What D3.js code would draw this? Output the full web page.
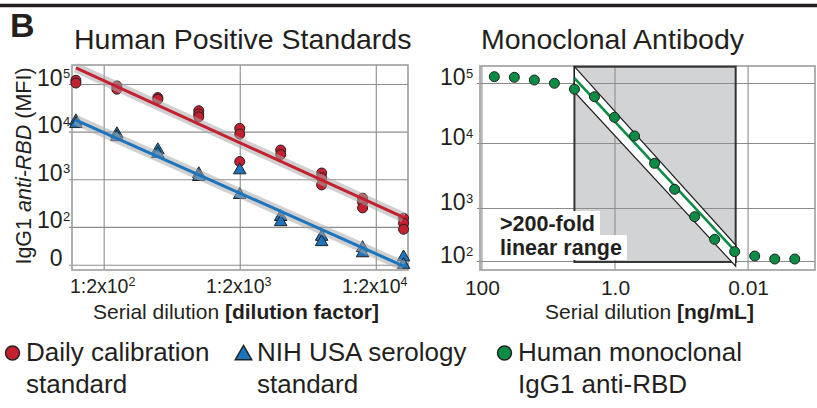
<!DOCTYPE html>
<html>
<head>
<meta charset="utf-8">
<script src="https://cdn.jsdelivr.net/npm/d3@7"></script>
<style>
body { margin: 0; background: #fff; }
text { font-family: "Liberation Sans", Arial, sans-serif; fill: #231f20; }
</style>
</head>
<body>
<div id="chart"></div>
<script>
// left panel: serial dilution (1:x) vs MFI
var dilutions = [125, 250, 500, 1000, 2000, 4000, 8000, 16000, 32000];
var dailyCalibration = [
  [120000, 105000],
  [91000, 78000],
  [52000, 48000],
  [27500, 23500, 20500],
  [11700, 8900, 2350],
  [4100, 3300],
  [1350, 1070, 760],
  [400, 330, 250],
  [152, 120, 89]
];
var nihSerology = [
  [16600, 14500],
  [8900, 7700],
  [4100, 3400],
  [1290, 1120],
  [1550, 470],
  [162, 126],
  [62, 48],
  [36, 28],
  [23, 16]
];
// regression lines [dilution, MFI]
var dailyFit = [[125, 219000], [32000, 158]];
var nihFit = [[125, 17400], [32000, 15]];
var leftYTicks = [100000, 10000, 1000, 100, 16];
var leftYTickLabels = [["10", "5"], ["10", "4"], ["10", "3"], ["10", "2"], ["0", ""]];
var leftXTicks = [200, 2000, 20000];
var leftXTickLabels = [["1:2x10", "2"], ["1:2x10", "3"], ["1:2x10", "4"]];

// right panel: concentration (ng/mL) vs MFI
var concentrations = [64, 32, 16, 8, 4, 2, 1, 0.5, 0.25, 0.125, 0.0625, 0.03125, 0.015625, 0.0078125, 0.00390625, 0.001953125];
var monoclonal = [127000, 124000, 112000, 99000, 79000, 59000, 26800, 13100, 4870, 1940, 685, 256, 150, 124, 109, 109];
var monoFit = [[4, 120000], [0.0151, 150]];
var monoFitBand = [[4, 185000], [0.0151, 200], [0.0151, 80], [4, 71000]];
var linearRange = [4, 0.0151];
var linearRangeMFI = [96, 185000];
var rightXTicks = [100, 1, 0.01];
var rightXTickLabels = ["100", "1.0", "0.01"];
var rightYTicks = [100000, 10000, 1000, 100];
var rightYTickLabels = [["10", "5"], ["10", "4"], ["10", "3"], ["10", "2"]];
var rangeNote = [">200-fold", "linear range"];

var legendLabels = [["Daily calibration", "standard"], ["NIH USA serology", "standard"], ["Human monoclonal", "IgG1 anti-RBD"]];

var red = "#c5202f", blue = "#1c75bc", green = "#0a8c45", ink = "#231f20";

var width = 817, height = 408;
var svg = d3.select("#chart").append("svg")
.attr("width", width)
.attr("height", height);

// scales
var xL = d3.scaleLog().domain([117, 34500]).range([72, 408]);
var yL = d3.scaleLog().domain([12.4, 251000]).range([270, 65]);
var xR = d3.scaleLog().domain([105, 0.00097]).range([480, 815]);
// the printed panel has uneven decades, so piecewise
var yR = d3.scaleLog().domain([68, 100, 1000, 10000, 100000, 190000]).range([270, 261, 208, 143, 83, 66]);

// top rule + panel letter
svg.append("line")
.attr("x1", 0).attr("x2", width)
.attr("y1", 5.5).attr("y2", 5.5)
.attr("stroke", ink)
.attr("stroke-width", 3.5);

svg.append("text")
.attr("x", 10)
.attr("y", 37)
.style("font-size", "34px")
.style("font-weight", "bold")
.text("B");

// titles
svg.append("text").attr("x", 74).attr("y", 49).style("font-size", "28.5px").text("Human Positive Standards");
svg.append("text").attr("x", 481).attr("y", 49).style("font-size", "28.5px").text("Monoclonal Antibody");

function grid(x, y, xt, yt) {
  var x0 = x.range()[0], x1 = x.range()[1], y0 = y.range()[0], y1 = y.range()[y.range().length - 1];
  svg.append("g")
  .attr("transform", `translate(${x0 - 3},0)`)
  .call(d3.axisLeft(y).tickValues(yt).tickSize(-(x1 - x0 + 3)).tickFormat(""))
  .call(g => g.select(".domain").remove())
  .selectAll("line")
  .attr("stroke", "#8c8c8c")
  .attr("stroke-width", 1.1);
  svg.append("g")
  .attr("transform", `translate(0,${y0})`)
  .call(d3.axisBottom(x).tickValues(xt).tickSize(-(y0 - y1)).tickFormat(""))
  .call(g => g.select(".domain").remove())
  .selectAll("line")
  .attr("stroke", "#8c8c8c")
  .attr("stroke-width", 1.1);
}

function frame(x, y) {
  var x0 = x.range()[0], x1 = x.range()[1], y0 = y.range()[0], y1 = y.range()[y.range().length - 1];
  svg.append("rect")
  .attr("x", x0).attr("y", y1)
  .attr("width", x1 - x0).attr("height", y0 - y1)
  .attr("fill", "none")
  .attr("stroke", "#9d9d9d")
  .attr("stroke-width", 1.6);
}

// ---------- left panel ----------
grid(xL, yL, leftXTicks, leftYTicks);
frame(xL, yL);

// y tick labels (10 + superscript)
leftYTicks.forEach(function(v, i) {
  svg.append("text")
  .attr("x", 62.5).attr("y", yL(v) + 1.5)
  .style("font-size", "23px")
  .style("text-anchor", "end")
  .text(leftYTickLabels[i][0]);
  svg.append("text")
  .attr("x", 63).attr("y", yL(v) - 6)
  .style("font-size", "13px")
  .text(leftYTickLabels[i][1]);
});

// x tick labels
leftXTicks.forEach(function(v, i) {
  var t = svg.append("text")
  .attr("x", xL(v) - 1).attr("y", 293)
  .style("font-size", "19.5px")
  .style("text-anchor", "middle");
  t.append("tspan").text(leftXTickLabels[i][0]);
  t.append("tspan").attr("dy", -7).style("font-size", "12.5px").text(leftXTickLabels[i][1]);
});

var xTitleL = svg.append("text")
.attr("x", 236).attr("y", 319)
.style("font-size", "21px")
.style("text-anchor", "middle");
xTitleL.append("tspan").text("Serial dilution ");
xTitleL.append("tspan").style("font-weight", "bold").text("[dilution factor]");

var yTitle = svg.append("text")
.attr("transform", "translate(31,166) rotate(-90)")
.style("font-size", "21.5px")
.style("text-anchor", "middle");
yTitle.append("tspan").text("IgG1 ");
yTitle.append("tspan").style("font-style", "italic").text("anti-RBD");
yTitle.append("tspan").text(" (MFI)");

var dailyPts = dailyCalibration.flatMap((vals, i) => vals.map(v => ({x: dilutions[i], y: v})));
var nihPts = nihSerology.flatMap((vals, i) => vals.map(v => ({x: dilutions[i], y: v})));

svg.selectAll("circle.daily")
.data(dailyPts)
.enter()
.append("circle")
.attr("class", "daily")
.attr("cx", d => xL(d.x))
.attr("cy", d => yL(d.y))
.attr("r", 5)
.attr("fill", red)
.attr("stroke", ink)
.attr("stroke-width", 1);

var tri = d3.symbol().type(d3.symbolTriangle).size(68);
svg.selectAll("path.nih")
.data(nihPts)
.enter()
.append("path")
.attr("class", "nih")
.attr("d", tri)
.attr("transform", d => `translate(${xL(d.x)},${yL(d.y)})`)
.attr("fill", blue)
.attr("stroke", ink)
.attr("stroke-width", 1);

var lineL = d3.line().x(d => xL(d[0])).y(d => yL(d[1]));
[[dailyFit, red], [nihFit, blue]].forEach(function(f) {
  // confidence band
  svg.append("path")
  .attr("d", lineL(f[0]))
  .attr("stroke", "#a9a9a9")
  .attr("stroke-opacity", 0.55)
  .attr("stroke-width", 10)
  .attr("fill", "none");
  svg.append("path")
  .attr("d", lineL(f[0]))
  .attr("stroke", f[1])
  .attr("stroke-width", 3)
  .attr("fill", "none");
});

// ---------- right panel ----------
svg.append("rect")
.attr("x", xR(linearRange[0]))
.attr("y", yR(linearRangeMFI[1]))
.attr("width", xR(linearRange[1]) - xR(linearRange[0]))
.attr("height", yR(linearRangeMFI[0]) - yR(linearRangeMFI[1]))
.attr("fill", "#d2d3d5");

grid(xR, yR, rightXTicks, rightYTicks);
frame(xR, yR);

svg.append("rect")
.attr("x", xR(linearRange[0]))
.attr("y", yR(linearRangeMFI[1]))
.attr("width", xR(linearRange[1]) - xR(linearRange[0]))
.attr("height", yR(linearRangeMFI[0]) - yR(linearRangeMFI[1]))
.attr("fill", "none")
.attr("stroke", "#333")
.attr("stroke-width", 2);

rightYTicks.forEach(function(v, i) {
  svg.append("text")
  .attr("x", 465.5).attr("y", yR(v) + 2)
  .style("font-size", "23px")
  .style("text-anchor", "end")
  .text(rightYTickLabels[i][0]);
  svg.append("text")
  .attr("x", 466).attr("y", yR(v) - 5)
  .style("font-size", "13px")
  .text(rightYTickLabels[i][1]);
});

rightXTicks.forEach(function(v, i) {
  svg.append("text")
  .attr("x", xR(v) + 1).attr("y", 295)
  .style("font-size", "21px")
  .style("text-anchor", "middle")
  .text(rightXTickLabels[i]);
});

var xTitleR = svg.append("text")
.attr("x", 649.5).attr("y", 319)
.style("font-size", "21px")
.style("text-anchor", "middle");
xTitleR.append("tspan").text("Serial dilution ");
xTitleR.append("tspan").style("font-weight", "bold").text("[ng/mL]");

// linear range annotation, white backing per line
var noteSize = 21.5, noteGap = 24, noteY = 231;
var bgG = svg.append("g");
rangeNote.forEach(function(s, i) {
  var t = svg.append("text")
  .attr("x", 500)
  .attr("y", noteY + i * noteGap)
  .style("font-size", noteSize + "px")
  .style("font-weight", "bold")
  .text(s);
  var len = t.node().getComputedTextLength();
  bgG.append("rect")
  .attr("x", 497)
  .attr("y", noteY + i * noteGap - 20)
  .attr("width", len + 8)
  .attr("height", noteGap + 1)
  .attr("fill", "#fff");
});

var lineR = d3.line().x(d => xR(d[0])).y(d => yR(d[1]));
svg.append("path")
.attr("d", lineR(monoFitBand) + "Z")
.attr("fill", "#fff")
.attr("stroke", ink)
.attr("stroke-width", 1.2);
svg.append("path")
.attr("d", lineR(monoFit))
.attr("stroke", green)
.attr("stroke-width", 2.6)
.attr("fill", "none");

svg.selectAll("circle.mono")
.data(concentrations)
.enter()
.append("circle")
.attr("class", "mono")
.attr("cx", d => xR(d))
.attr("cy", (d, i) => yR(monoclonal[i]))
.attr("r", 5)
.attr("fill", green)
.attr("stroke", ink)
.attr("stroke-width", 1);

// ---------- legend ----------
var legendX = [26, 257, 518];
var legendSym = [
  g => g.append("circle").attr("r", 7).attr("fill", red),
  g => g.append("path").attr("d", d3.symbol().type(d3.symbolTriangle).size(120)).attr("transform", "translate(0,2)").attr("fill", blue),
  g => g.append("circle").attr("r", 7).attr("fill", green)
];
legendLabels.forEach(function(lab, i) {
  var g = svg.append("g").attr("transform", `translate(${legendX[i] - 13.5},353)`);
  legendSym[i](g).attr("stroke", ink).attr("stroke-width", 1.4);
  lab.forEach(function(s, j) {
    svg.append("text")
    .attr("x", legendX[i])
    .attr("y", 361 + j * 31.5)
    .style("font-size", "26px")
    .text(s);
  });
});
</script>
</body>
</html>
